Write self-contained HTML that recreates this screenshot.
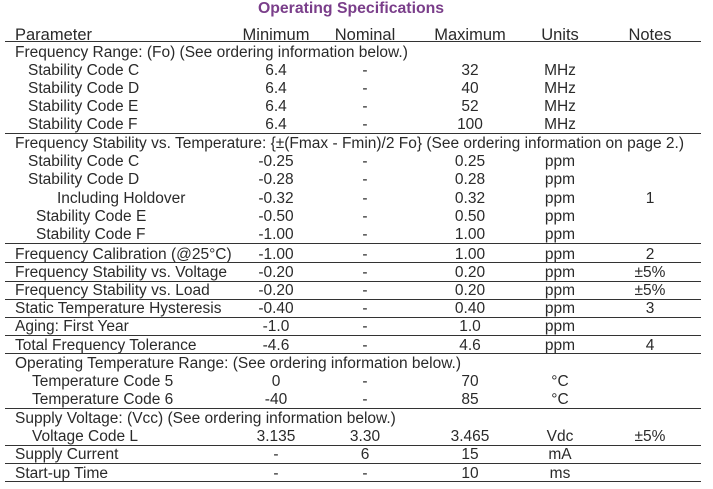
<!DOCTYPE html><html><head><style>
body{margin:0;width:713px;height:489px;background:#fff;position:relative;font-family:"Liberation Sans",sans-serif;color:#2a2a2a;font-size:15.5px;overflow:hidden}
.t{position:absolute;line-height:18px;white-space:nowrap}
.c{position:absolute;line-height:18px;white-space:nowrap;transform:translateX(-50%)}
.l{position:absolute;left:5px;width:696px;height:1.3px;background:#333}
</style></head><body>
<div class="c" style="left:351px;top:0px;color:#7a3e8a;font-weight:bold;font-size:15.8px">Operating Specifications</div>
<div class="t" style="left:15px;top:26px;font-size:16.5px">Parameter</div>
<div class="c" style="left:276px;top:26px;font-size:16.5px">Minimum</div>
<div class="c" style="left:365px;top:26px;font-size:16.5px">Nominal</div>
<div class="c" style="left:470px;top:26px;font-size:16.5px">Maximum</div>
<div class="c" style="left:560px;top:26px;font-size:16.5px">Units</div>
<div class="c" style="left:650px;top:26px;font-size:16.5px">Notes</div>
<div class="l" style="top:41px"></div>
<div id="rows"></div>
<script>
var R=[
[52,15,"Frequency Range: (Fo) (See ordering information below.)"],
[70,28,"Stability Code C","6.4","-","32","MHz",""],
[88,28,"Stability Code D","6.4","-","40","MHz",""],
[106,28,"Stability Code E","6.4","-","52","MHz",""],
[124,28,"Stability Code F","6.4","-","100","MHz",""],
[143,15,"Frequency Stability vs. Temperature: {±(Fmax - Fmin)/2 Fo} (See ordering information on page 2.)"],
[161,28,"Stability Code C","-0.25","-","0.25","ppm",""],
[179,28,"Stability Code D","-0.28","-","0.28","ppm",""],
[198,57,"Including Holdover","-0.32","-","0.32","ppm","1"],
[216,36,"Stability Code E","-0.50","-","0.50","ppm",""],
[234,36,"Stability Code F","-1.00","-","1.00","ppm",""],
[254,15,"Frequency Calibration (@25°C)","-1.00","-","1.00","ppm","2"],
[272,15,"Frequency Stability vs. Voltage","-0.20","-","0.20","ppm","±5%"],
[290,15,"Frequency Stability vs. Load","-0.20","-","0.20","ppm","±5%"],
[308,15,"Static Temperature Hysteresis","-0.40","-","0.40","ppm","3"],
[326,15,"Aging: First Year","-1.0","-","1.0","ppm",""],
[345,15,"Total Frequency Tolerance","-4.6","-","4.6","ppm","4"],
[363,15,"Operating Temperature Range: (See ordering information below.)"],
[381,32,"Temperature Code 5","0","-","70","°C",""],
[399,32,"Temperature Code 6","-40","-","85","°C",""],
[418,15,"Supply Voltage: (Vcc) (See ordering information below.)"],
[436,32,"Voltage Code L","3.135","3.30","3.465","Vdc","±5%"],
[454,15,"Supply Current","-","6","15","mA",""],
[473,15,"Start-up Time","-","-","10","ms",""]];
var X=[276,365,470,560,650],h="";
R.forEach(function(r){var y=r[0]-8;h+='<div class="t" style="left:'+r[1]+'px;top:'+y+'px">'+r[2]+'</div>';
for(var i=3;i<r.length;i++)if(r[i])h+='<div class="c" style="left:'+X[i-3]+'px;top:'+y+'px">'+r[i]+'</div>';});
[133,243,262,281,299,317,335,353,408,445,463,481].forEach(function(y){h+='<div class="l" style="top:'+y+'px"></div>'});
document.getElementById("rows").innerHTML=h;
</script>
</body></html>
